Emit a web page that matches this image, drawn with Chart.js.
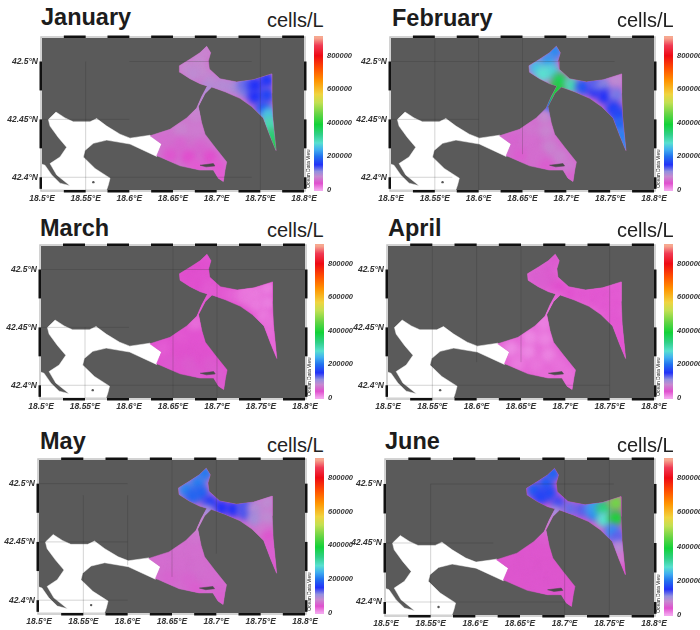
<!DOCTYPE html>
<html>
<head>
<meta charset="utf-8">
<title>Monthly cell density maps</title>
<script src="https://cdn.jsdelivr.net/npm/chart.js@4"></script>
<style>
    html, body { margin: 0; padding: 0; background: #fff; }
    body { position: relative; width: 700px; height: 630px; overflow: hidden; font-family: "Liberation Sans", Arial, sans-serif; }
    canvas { position: absolute; }
    .month { position: absolute; font-size: 23.5px; font-weight: bold; line-height: 1; color: #1c1c1c; }
    .unit { position: absolute; font-size: 20px; line-height: 1; color: #222; }
</style>
</head>
<body>
<script>
// Chart data
const months = ['January', 'February', 'March', 'April', 'May', 'June'];
const unitLabel = 'cells/L';

const lonTicks = [18.5, 18.55, 18.6, 18.65, 18.7, 18.75, 18.8];
const lonLabels = ['18.5°E', '18.55°E', '18.6°E', '18.65°E', '18.7°E', '18.75°E', '18.8°E'];
const latTicks = [42.4, 42.45, 42.5];
const latLabels = ['42.4°N', '42.45°N', '42.5°N'];
const colorbarTicks = [0, 200000, 400000, 600000, 800000];

// Bay outline (water with data)
const bayLon = [18.6886, 18.6931, 18.6905, 18.6916, 18.7038, 18.7229, 18.7420, 18.7630, 18.7630, 18.7641, 18.7680, 18.7611, 18.7534, 18.7401, 18.7267, 18.7096, 18.6943, 18.6867, 18.6790, 18.6828, 18.6867, 18.6981, 18.7115, 18.7096, 18.7076, 18.7019, 18.6962, 18.6809, 18.6580, 18.6351, 18.6313, 18.6370, 18.6237, 18.6466, 18.6657, 18.6771, 18.6828, 18.6893, 18.6809, 18.6695, 18.6580, 18.6573, 18.6695, 18.6809, 18.6886];
const bayLat = [42.5132, 42.5076, 42.5006, 42.4935, 42.4851, 42.4823, 42.4842, 42.4893, 42.4724, 42.4527, 42.4231, 42.4358, 42.4513, 42.4611, 42.4682, 42.4738, 42.4780, 42.4724, 42.4611, 42.4470, 42.4372, 42.4259, 42.4132, 42.4062, 42.3963, 42.3992, 42.4062, 42.4062, 42.4099, 42.4175, 42.4186, 42.4287, 42.4358, 42.4414, 42.4513, 42.4597, 42.4696, 42.4789, 42.4808, 42.4851, 42.4907, 42.4963, 42.5020, 42.5076, 42.5132];

// White water west of the bay
const whiteLon = [18.5073, 18.5160, 18.5263, 18.5359, 18.5550, 18.5626, 18.5741, 18.5893, 18.6008, 18.6237, 18.6370, 18.6313, 18.6008, 18.5741, 18.5588, 18.5492, 18.5473, 18.5607, 18.5779, 18.5760, 18.5741, 18.5, 18.5, 18.5034, 18.5111, 18.5206, 18.5321, 18.5168, 18.5092, 18.5206, 18.5282, 18.5187, 18.5092, 18.5073];
const whiteLat = [42.4499, 42.4563, 42.4513, 42.4479, 42.4479, 42.4507, 42.4442, 42.4372, 42.4338, 42.4363, 42.4287, 42.4180, 42.4287, 42.4321, 42.4293, 42.4231, 42.4175, 42.4076, 42.3992, 42.3935, 42.3893, 42.3893, 42.4113, 42.4104, 42.4020, 42.3949, 42.3927, 42.4020, 42.4118, 42.4175, 42.4259, 42.4344, 42.4442, 42.4499];

const islandLon = [18.6809, 18.6962, 18.6980, 18.6880, 18.6809];
const islandLat = [42.4104, 42.4118, 42.4098, 42.4090, 42.4104];
const rockLon = [18.5588];
const rockLat = [42.3958];

// Sample positions
const stationLon = [18.6867, 18.6790, 18.6657, 18.6828, 18.6733, 18.6924, 18.7057, 18.7191, 18.7325, 18.7325, 18.7439, 18.7573, 18.7439, 18.7573, 18.7534, 18.7592, 18.7603, 18.7630, 18.7660, 18.6886, 18.6828, 18.6798, 18.6752, 18.6599, 18.6771, 18.6389, 18.6580, 18.6809, 18.6466, 18.6676, 18.6924, 18.6771, 18.7019, 18.7057];
const stationLat = [42.5090, 42.5006, 42.4949, 42.4921, 42.4893, 42.4837, 42.4794, 42.4780, 42.4752, 42.4808, 42.4794, 42.4837, 42.4696, 42.4710, 42.4597, 42.4541, 42.4456, 42.4358, 42.4259, 42.4752, 42.4668, 42.4597, 42.4527, 42.4414, 42.4400, 42.4315, 42.4287, 42.4259, 42.4189, 42.4175, 42.4175, 42.4090, 42.4090, 42.3992];

const januaryValues = [75000, 80000, 80000, 80000, 85000, 85000, 90000, 95000, 115000, 125000, 150000, 155000, 150000, 165000, 170000, 255000, 300000, 345000, 375000, 95000, 90000, 85000, 75000, 75000, 70000, 60000, 55000, 55000, 45000, 40000, 40000, 35000, 35000, 35000];
const februaryValues = [215000, 225000, 250000, 265000, 280000, 365000, 300000, 180000, 150000, 130000, 115000, 85000, 150000, 120000, 160000, 165000, 190000, 210000, 215000, 395000, 385000, 185000, 80000, 65000, 75000, 55000, 60000, 75000, 50000, 60000, 75000, 50000, 70000, 55000];
const marchValues = [38000, 40000, 40000, 38000, 40000, 35000, 35000, 30000, 22000, 22000, 20000, 18000, 20000, 18000, 20000, 24000, 26000, 28000, 28000, 35000, 35000, 32000, 26000, 36000, 38000, 34000, 42000, 42000, 46000, 48000, 48000, 48000, 50000, 48000];
const aprilValues = [48000, 50000, 52000, 48000, 50000, 40000, 38000, 36000, 36000, 36000, 36000, 35000, 36000, 36000, 36000, 36000, 36000, 38000, 38000, 30000, 26000, 22000, 18000, 14000, 16000, 14000, 14000, 16000, 20000, 22000, 24000, 26000, 24000, 26000];
const mayValues = [205000, 210000, 215000, 190000, 190000, 160000, 150000, 150000, 135000, 135000, 90000, 85000, 100000, 85000, 70000, 45000, 50000, 50000, 45000, 100000, 85000, 80000, 65000, 62000, 62000, 60000, 60000, 62000, 55000, 55000, 60000, 50000, 55000, 50000];
const juneValues = [190000, 185000, 185000, 170000, 165000, 140000, 125000, 130000, 215000, 230000, 340000, 460000, 280000, 400000, 220000, 130000, 90000, 70000, 45000, 100000, 85000, 70000, 48000, 45000, 45000, 45000, 45000, 45000, 45000, 45000, 45000, 45000, 45000, 45000];
const monthValues = [januaryValues, februaryValues, marchValues, aprilValues, mayValues, juneValues];
const baseValues = [65000, 60000, 38000, 30000, 60000, 45000];

// Colour scale
const colorValues = [0, 40000, 80000, 110000, 150000, 200000, 240000, 280000, 330000, 390000, 450000, 520000, 570000, 650000, 720000, 800000, 860000, 905000];
const colorStops = ['#f3a6ee', '#e04fce', '#c68ad0', '#9490de', '#2232f8', '#2272ee', '#40aef0', '#58e0d0', '#30d088', '#12d238', '#62d444', '#c2e052', '#f0d440', '#ff9400', '#ff5200', '#ee0a14', '#f03a54', '#f6a890'];

// Plot box of each panel in page pixels [left, top, right, bottom]
const plotBoxes = [[42, 35, 304, 190], [391, 35, 654, 190], [41, 243, 305, 398], [388, 243, 654, 398], [39, 457, 305, 613], [386, 457, 654, 615]];
const titleSpots = [[41, 6], [392, 7], [40, 217], [388, 217], [40, 430], [385, 430]];
const unitSpots = [[267, 10], [617, 10], [267, 220], [617, 220], [267, 435], [617, 435]];

// Thin grid remnants per panel [lon1, lat1, lon2, lat2]
const gridSegments = [
    [[18.75, 42.389, 18.75, 42.5203], [18.55, 42.389, 18.55, 42.5], [18.6, 42.5, 18.74, 42.5], [18.5, 42.45, 18.6, 42.45], [18.5, 42.4, 18.74, 42.4]],
    [[18.55, 42.389, 18.55, 42.5203], [18.6, 42.389, 18.6, 42.5203], [18.65, 42.42, 18.65, 42.5203], [18.5, 42.5, 18.755, 42.5], [18.5, 42.45, 18.6, 42.45], [18.5, 42.4, 18.57, 42.4]],
    [[18.65, 42.389, 18.65, 42.5203], [18.7, 42.389, 18.7, 42.5203], [18.55, 42.389, 18.55, 42.45], [18.5, 42.5, 18.8, 42.5], [18.5, 42.45, 18.6, 42.45], [18.5, 42.4, 18.7, 42.4]],
    [[18.55, 42.389, 18.55, 42.5203], [18.6, 42.42, 18.6, 42.5203], [18.65, 42.42, 18.65, 42.5203], [18.75, 42.389, 18.75, 42.5203], [18.5, 42.4, 18.75, 42.4]],
    [[18.55, 42.389, 18.55, 42.49], [18.6, 42.43, 18.6, 42.49], [18.65, 42.42, 18.65, 42.5203], [18.7, 42.44, 18.7, 42.5203], [18.5, 42.5, 18.6, 42.5], [18.5, 42.45, 18.6, 42.45], [18.5, 42.4, 18.6, 42.4]],
    [[18.55, 42.389, 18.55, 42.5], [18.7, 42.389, 18.7, 42.5203], [18.75, 42.389, 18.75, 42.5203], [18.55, 42.5, 18.755, 42.5], [18.5, 42.45, 18.62, 42.45], [18.5, 42.4, 18.7, 42.4]]
];

// Black border pieces of the map frame
const frameLon = [[18.525, 18.55], [18.575, 18.6], [18.625, 18.65], [18.675, 18.7], [18.725, 18.75], [18.775, 18.8]];
const frameLat = [[42.39, 42.4], [42.425, 42.45], [42.475, 42.5]];

function xy(lons, lats) {
    return lons.map((lon, i) => ({ x: lon, y: lats[i] }));
}

function hexToRgb(hex) {
    return [1, 3, 5].map(i => parseInt(hex.slice(i, i + 2), 16));
}

function valueColor(v) {
    let i = 0;
    while (i < colorValues.length - 2 && v > colorValues[i + 1]) i++;
    const t = Math.min(1, Math.max(0, (v - colorValues[i]) / (colorValues[i + 1] - colorValues[i])));
    const a = hexToRgb(colorStops[i]);
    const b = hexToRgb(colorStops[i + 1]);
    return 'rgb(' + a.map((c, k) => Math.round(c + (b[k] - c) * t)).join(',') + ')';
}

const mapPlugin = {
    id: 'mapPlugin',
    beforeDraw(chart) {
        const { ctx, chartArea: a } = chart;
        ctx.save();
        ctx.fillStyle = '#5a5a5a';
        ctx.fillRect(a.left, a.top, a.right - a.left, a.bottom - a.top);
        ctx.restore();
    },
    // the field samples only show inside the bay, softened into each other
    beforeDatasetDraw(chart, args) {
        if (!chart.data.datasets[args.index].isField) return;
        const { ctx, scales } = chart;
        ctx.save();
        ctx.beginPath();
        bayLon.forEach((lon, i) => {
            ctx.lineTo(scales.x.getPixelForValue(lon), scales.y.getPixelForValue(bayLat[i]));
        });
        ctx.closePath();
        ctx.clip();
        ctx.filter = 'blur(3px)';
    },
    afterDatasetDraw(chart, args) {
        if (chart.data.datasets[args.index].isField) chart.ctx.restore();
    },
    afterDraw(chart) {
        const { ctx, chartArea: a, scales } = chart;
        ctx.save();
        // frame
        ctx.strokeStyle = '#c4c4c4';
        ctx.lineWidth = 1.5;
        ctx.strokeRect(a.left - 1, a.top - 1, a.right - a.left + 2, a.bottom - a.top + 2);
        ctx.fillStyle = '#111';
        frameLon.forEach(([from, to]) => {
            const x1 = scales.x.getPixelForValue(from);
            const x2 = scales.x.getPixelForValue(to);
            ctx.fillRect(x1, a.top - 2.5, x2 - x1, 2.5);
            ctx.fillRect(x1, a.bottom, x2 - x1, 2.5);
        });
        frameLat.forEach(([from, to]) => {
            const y1 = scales.y.getPixelForValue(to);
            const y2 = scales.y.getPixelForValue(from);
            ctx.fillRect(a.left - 2.5, y1, 2.5, y2 - y1);
            ctx.fillRect(a.right, y1, 2.5, y2 - y1);
        });
        // colour bar on the right axis
        const bar = scales.y2;
        const grad = ctx.createLinearGradient(0, bar.getPixelForValue(0), 0, bar.getPixelForValue(905000));
        colorValues.forEach((v, i) => grad.addColorStop(v / 905000, colorStops[i]));
        ctx.fillStyle = grad;
        ctx.fillRect(a.right + 10, a.top - 2, 9, a.bottom - a.top + 3);
        // small credit beside the map
        ctx.translate(a.right + 4.5, a.bottom - 2);
        ctx.rotate(-Math.PI / 2);
        ctx.fillStyle = '#222';
        ctx.font = '5px "Liberation Sans"';
        ctx.textBaseline = 'middle';
        ctx.fillText('Ocean Data View', 0, 0);
        ctx.restore();
    }
};

const tickFont = { family: '"Liberation Sans"', size: 8.5, weight: 'bold', style: 'italic' };
const noGrid = { display: false, drawTicks: false };

months.forEach((month, p) => {
    const [left, top, right, bottom] = plotBoxes[p];

    const titleEl = document.createElement('div');
    titleEl.className = 'month';
    titleEl.textContent = month;
    titleEl.style.left = titleSpots[p][0] + 'px';
    titleEl.style.top = titleSpots[p][1] + 'px';
    document.body.appendChild(titleEl);

    const unitEl = document.createElement('div');
    unitEl.className = 'unit';
    unitEl.textContent = unitLabel;
    unitEl.style.left = unitSpots[p][0] + 'px';
    unitEl.style.top = unitSpots[p][1] + 'px';
    document.body.appendChild(unitEl);

    const canvas = document.createElement('canvas');
    const leftGutter = 38, rightGutter = 54, topGutter = 5, bottomGutter = 16;
    canvas.width = leftGutter + right - left + rightGutter;
    canvas.height = topGutter + bottom - top + bottomGutter;
    canvas.style.left = (left - leftGutter) + 'px';
    canvas.style.top = (top - topGutter) + 'px';
    document.body.appendChild(canvas);

    const polygon = (lons, lats, color, order) => ({
        data: xy(lons, lats),
        showLine: true,
        fill: 'shape',
        backgroundColor: color,
        borderColor: color,
        borderWidth: 0.5,
        pointRadius: 0,
        order: order
    });

    const datasets = [
        polygon(whiteLon, whiteLat, '#ffffff', 6),
        polygon(bayLon, bayLat, valueColor(baseValues[p]), 5),
        {
            isField: true,
            data: xy(stationLon, stationLat),
            pointRadius: 8,
            pointBorderWidth: 0,
            pointBackgroundColor: monthValues[p].map(valueColor),
            order: 4
        },
        polygon(islandLon, islandLat, '#4a4a4a', 3),
        { data: xy(rockLon, rockLat), pointRadius: 1.2, pointBackgroundColor: '#555', pointBorderWidth: 0, order: 3 }
    ];

    gridSegments[p].forEach(seg => {
        datasets.push({
            data: [{ x: seg[0], y: seg[1] }, { x: seg[2], y: seg[3] }],
            showLine: true,
            borderColor: 'rgba(40, 40, 40, 0.2)',
            borderWidth: 1,
            pointRadius: 0,
            order: 1
        });
    });

    new Chart(canvas.getContext('2d'), {
        type: 'scatter',
        data: { datasets: datasets },
        plugins: [mapPlugin],
        options: {
            responsive: false,
            animation: false,
            layout: { padding: { top: topGutter } },
            plugins: { legend: { display: false }, tooltip: { enabled: false } },
            scales: {
                x: {
                    type: 'linear',
                    min: 18.5,
                    max: 18.8,
                    grid: noGrid,
                    border: { display: false },
                    afterBuildTicks: s => { s.ticks = lonTicks.map(v => ({ value: v })); },
                    afterFit: s => { s.height = bottomGutter; s.paddingLeft = 0; s.paddingRight = 0; },
                    ticks: {
                        padding: 4,
                        maxRotation: 0,
                        autoSkip: false,
                        color: '#333',
                        font: tickFont,
                        callback: v => lonLabels[lonTicks.indexOf(v)]
                    }
                },
                y: {
                    type: 'linear',
                    min: 42.389,
                    max: 42.5203,
                    grid: noGrid,
                    border: { display: false },
                    afterBuildTicks: s => { s.ticks = latTicks.map(v => ({ value: v })); },
                    afterFit: s => { s.width = leftGutter; s.paddingTop = 0; s.paddingBottom = 0; },
                    ticks: {
                        padding: 4,
                        autoSkip: false,
                        color: '#333',
                        font: tickFont,
                        callback: v => latLabels[latTicks.indexOf(v)]
                    }
                },
                y2: {
                    type: 'linear',
                    position: 'right',
                    min: 0,
                    max: 905000,
                    grid: noGrid,
                    border: { display: false },
                    afterBuildTicks: s => { s.ticks = colorbarTicks.map(v => ({ value: v })); },
                    afterFit: s => { s.width = rightGutter; s.paddingTop = 0; s.paddingBottom = 0; },
                    ticks: {
                        padding: 23,
                        autoSkip: false,
                        color: '#333',
                        font: { family: '"Liberation Sans"', size: 7.5, weight: 'bold', style: 'italic' },
                        callback: v => String(v)
                    }
                }
            }
        }
    });
});
</script>
</body>
</html>
